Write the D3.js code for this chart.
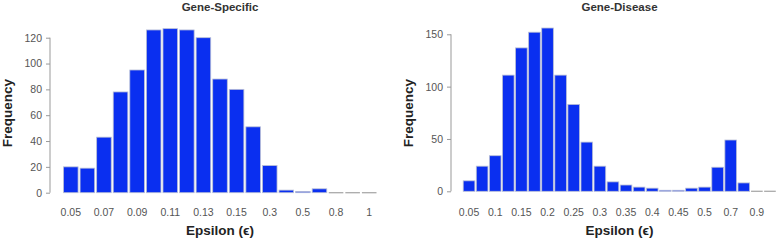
<!DOCTYPE html>
<html lang="en">
<head>
    <script src="https://d3js.org/d3.v7.min.js"></script>
    <style>
        body { margin: 0; background: #fff; }
        text { font-family: 'Liberation Sans', Arial, sans-serif; }
    </style>
</head>
<body>
<script>
    var width = 777, height = 241;

    // Gene-Specific histogram
    var specCats = ['0.05','0.06','0.07','0.08','0.09','0.1','0.11','0.12','0.13','0.14','0.15','0.2','0.3','0.4','0.5','0.6','0.8','0.9','1'];
    var specVals = [20, 19, 43, 78, 95, 126, 127, 126, 120, 88, 80, 51, 21, 2, 1, 3, 0, 0, 0];
    var specLabels = ['0.05','0.07','0.09','0.11','0.13','0.15','0.3','0.5','0.8','1'];
    var specTicks = [0, 20, 40, 60, 80, 100, 120];

    // Gene-Disease histogram
    var disCats = ['0.05','0.075','0.1','0.125','0.15','0.175','0.2','0.225','0.25','0.275','0.3','0.325','0.35','0.375','0.4','0.425','0.45','0.475','0.5','0.6','0.7','0.8','0.9','1'];
    var disVals = [10, 24, 34, 111, 137, 152, 156, 111, 83, 47, 24, 9, 6, 4, 3, 1, 1, 3, 4, 23, 49, 8, 0, 0];
    var disLabels = ['0.05','0.1','0.15','0.2','0.25','0.3','0.35','0.4','0.45','0.5','0.7','0.9'];
    var disTicks = [0, 50, 100, 150];

    var svg = d3.select('body').append('svg').attr('width', width).attr('height', height);

    function panel(cfg) {
        var g = svg.append('g');
        var x = d3.scaleBand().domain(cfg.cats).range(cfg.xr).paddingInner(cfg.pad).paddingOuter(cfg.pad / 2);
        var y = d3.scaleLinear().domain([0, d3.max(cfg.ticks)]).range(cfg.yr);

        // y axis
        var ax = g.append('g')
            .attr('transform', 'translate(' + cfg.axisX + ',0)')
            .call(d3.axisLeft(y).tickValues(cfg.ticks).tickSize(4).tickPadding(4));
        ax.select('.domain').attr('stroke', '#999').attr('d', 'M0,' + y(0) + 'V' + y(d3.max(cfg.ticks)));
        ax.selectAll('.tick line').attr('stroke', '#999');
        ax.selectAll('.tick text').attr('fill', '#555').style('font-size', '10.5px');

        // bars
        g.selectAll('rect')
            .data(cfg.vals)
            .join('rect')
            .attr('x', function(d, i) { return x(cfg.cats[i]); })
            .attr('width', x.bandwidth())
            .attr('y', function(d) { return y(d); })
            .attr('height', function(d) { return y(0) - y(d); })
            .attr('fill', '#0a2ff0')
            .attr('stroke', '#b9bfd6')
            .attr('stroke-width', 0.8);

        // empty bins drawn as flat grey segments
        g.selectAll('line.zero')
            .data(cfg.vals.map(function(v, i) { return { v: v, c: cfg.cats[i] }; }).filter(function(d) { return d.v === 0; }))
            .join('line')
            .attr('class', 'zero')
            .attr('x1', function(d) { return x(d.c); })
            .attr('x2', function(d) { return x(d.c) + x.bandwidth(); })
            .attr('y1', y(0)).attr('y2', y(0))
            .attr('stroke', '#aaa')
            .attr('stroke-width', 1.3);

        // x labels (every other bar)
        g.selectAll('text.xl')
            .data(cfg.labels)
            .join('text')
            .attr('class', 'xl')
            .attr('x', function(d, i) { return x(cfg.cats[i * 2]) + x.bandwidth() / 2; })
            .attr('y', 216)
            .attr('text-anchor', 'middle')
            .attr('fill', '#555')
            .style('font-size', '10.5px')
            .text(function(d) { return d; });

        var cx = (cfg.xr[0] + cfg.xr[1]) / 2;
        g.append('text')
            .attr('x', cx).attr('y', 11)
            .attr('text-anchor', 'middle')
            .attr('fill', '#333')
            .style('font-size', '11.5px').style('font-weight', 'bold')
            .text(cfg.title);

        g.append('text')
            .attr('x', cx).attr('y', 235)
            .attr('text-anchor', 'middle')
            .attr('fill', '#222')
            .style('font-size', '13.5px').style('font-weight', 'bold')
            .text('Epsilon (\u03f5)');

        g.append('text')
            .attr('transform', 'translate(' + cfg.ylabX + ',113) rotate(-90)')
            .attr('text-anchor', 'middle')
            .attr('fill', '#222')
            .style('font-size', '13.5px').style('font-weight', 'bold')
            .text('Frequency');
    }

    panel({ cats: specCats, vals: specVals, labels: specLabels, ticks: specTicks,
            xr: [62.5, 377.5], yr: [192.7, 37.7], pad: 0.12, axisX: 50, ylabX: 12,
            title: 'Gene-Specific' });

    panel({ cats: disCats, vals: disVals, labels: disLabels, ticks: disTicks,
            xr: [462.5, 776.5], yr: [191.3, 34.3], pad: 0.11, axisX: 451, ylabX: 413,
            title: 'Gene-Disease' });
</script>
</body>
</html>
